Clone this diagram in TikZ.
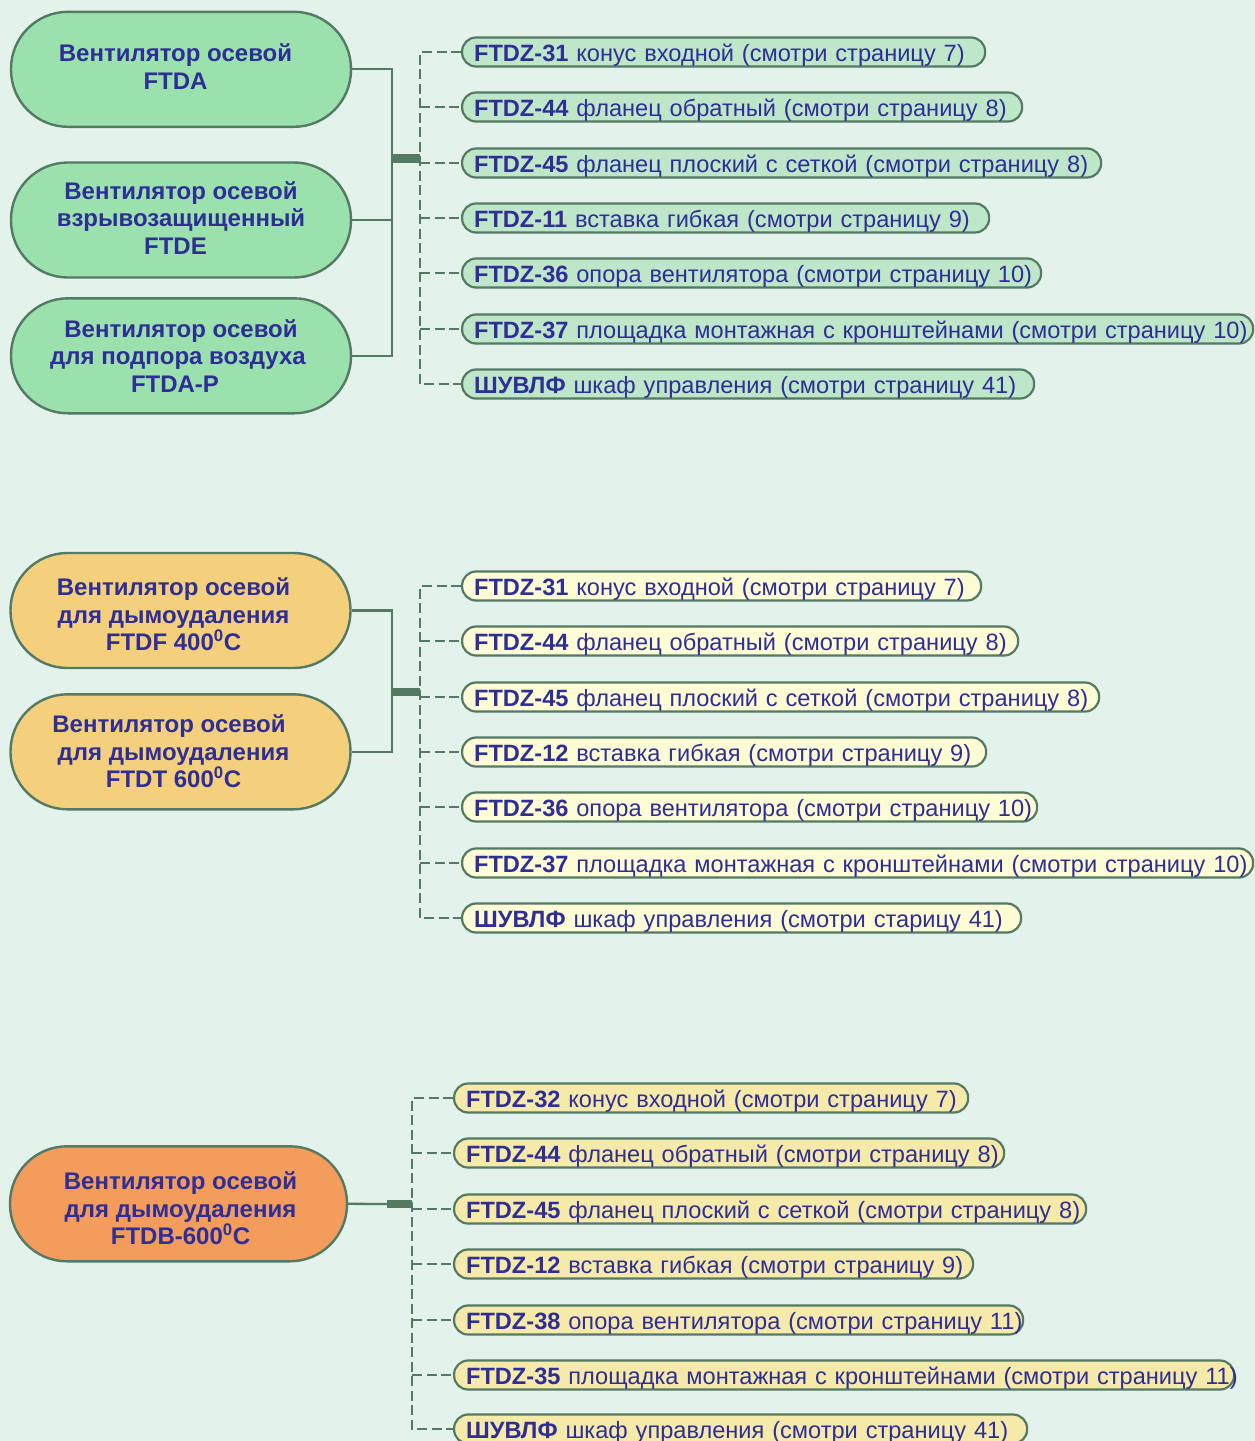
\documentclass[tikz,border=0pt]{standalone}
\usepackage{fontspec}
\setmainfont{Liberation Sans}
\definecolor{bg}{RGB}{227,242,234}
\definecolor{edge}{RGB}{84,122,100}
\definecolor{gmain}{RGB}{155,225,173}
\definecolor{glab}{RGB}{190,230,200}
\definecolor{ymain}{RGB}{245,208,124}
\definecolor{ylab}{RGB}{253,252,212}
\definecolor{ylabb}{RGB}{245,234,170}
\definecolor{omain}{RGB}{243,156,92}
\definecolor{txt}{RGB}{46,46,150}
\newcommand\lb[2]{\mbox{\textbf{#1} #2}}
\tikzset{
  mainpill/.style={draw=edge, line width=2.4pt, rounded corners=57pt,
    minimum width=340pt, minimum height=115pt, inner sep=0pt},
  mtext/.style={inner sep=0pt, align=center, text=txt, draw=none,
    font=\fontsize{24}{27.6}\selectfont\bfseries},
  lbl/.style={draw=edge, line width=2.2pt, rounded corners=14pt, minimum height=29pt,
    inner xsep=12pt, inner ysep=0pt, anchor=west, align=left, text=txt,
    text height=18.4pt, text depth=0pt,
    font=\fontsize{23.6}{27}\selectfont},
  bus/.style={draw=edge, line width=2.3pt},
  bar/.style={draw=edge, line width=8.5pt},
  dsh/.style={draw=edge, line width=2.7pt, dash pattern=on 10pt off 4.5pt}
}
\begin{document}
\begin{tikzpicture}[x=1pt,y=-1pt]
\useasboundingbox[fill=bg] (0,0) rectangle (1255,1441);

% ---------- section 1 ----------
\node[mainpill, fill=gmain, label={[mtext, xshift=-5.5pt, yshift=2.8pt]center:{Вентилятор осевой\\FTDA}}] (a1) at (181,69.3) {};
\node[mainpill, fill=gmain, label={[mtext, xshift=0pt, yshift=2.2pt]center:{Вентилятор осевой\\взрывозащищенный\\FTDE\hspace*{11pt}}}] (a2) at (181,220) {};
\node[mainpill, fill=gmain, label={[mtext, xshift=-3pt, yshift=0pt]center:{\hspace*{6pt}Вентилятор осевой\\для подпора воздуха\\FTDA-P\hspace*{6pt}}}] (a3) at (181,355.8) {};

\node[lbl, fill=glab, text width=499pt] (l11) at (461,52)  {\lb{FTDZ-31}{конус входной (смотри страницу 7)}};
\node[lbl, fill=glab, text width=536pt] (l12) at (461,107) {\lb{FTDZ-44}{фланец обратный (смотри страницу 8)}};
\node[lbl, fill=glab, text width=615pt] (l13) at (461,163) {\lb{FTDZ-45}{фланец плоский с сеткой (смотри страницу 8)}};
\node[lbl, fill=glab, text width=503pt] (l14) at (461,218) {\lb{FTDZ-11}{вставка гибкая (смотри страницу 9)}};
\node[lbl, fill=glab, text width=555pt] (l15) at (461,273) {\lb{FTDZ-36}{опора вентилятора (смотри страницу 10)}};
\node[lbl, fill=glab, text width=767pt] (l16) at (461,329) {\lb{FTDZ-37}{площадка монтажная с кронштейнами (смотри страницу 10)}};
\node[lbl, fill=glab, text width=548pt] (l17) at (461,384) {\lb{ШУВЛФ}{шкаф управления (смотри страницу 41)}};

\coordinate (s1) at (392,158.3);
\coordinate (t1) at (420,158.3);
\draw[bus] (a1.east) -| (s1);
\draw[bus] (a3.east) -| (s1);
\draw[bus] (a2.east) -- (a2.east -| s1);
\draw[bar] (s1) -- (t1);
\draw[dsh] (l11.west) -| (l17.west -| t1) -- (l17.west);
\foreach \i in {2,...,6} \draw[dsh] (l1\i.west -| t1) -- (l1\i.west);

% ---------- section 2 ----------
\node[mainpill, fill=ymain, label={[mtext, xshift=-7pt, yshift=-3.8pt]center:{Вентилятор осевой\\для дымоудаления\\FTDF 400\textsuperscript{0}C}}] (f1) at (180.5,610.5) {};
\node[mainpill, fill=ymain, label={[mtext, xshift=-7pt, yshift=0.3pt]center:{Вентилятор осевой\hspace*{9pt}\\для дымоудаления\\FTDT 600\textsuperscript{0}C}}] (f2) at (180.5,751.8) {};

\node[lbl, fill=ylab, text width=495pt] (l21) at (461,586) {\lb{FTDZ-31}{конус входной (смотри страницу 7)}};
\node[lbl, fill=ylab, text width=532pt] (l22) at (461,641) {\lb{FTDZ-44}{фланец обратный (смотри страницу 8)}};
\node[lbl, fill=ylab, text width=613pt] (l23) at (461,697) {\lb{FTDZ-45}{фланец плоский с сеткой (смотри страницу 8)}};
\node[lbl, fill=ylab, text width=500pt] (l24) at (461,752) {\lb{FTDZ-12}{вставка гибкая (смотри страницу 9)}};
\node[lbl, fill=ylab, text width=551pt] (l25) at (461,807) {\lb{FTDZ-36}{опора вентилятора (смотри страницу 10)}};
\node[lbl, fill=ylab, text width=767pt] (l26) at (461,863) {\lb{FTDZ-37}{площадка монтажная с кронштейнами (смотри страницу 10)}};
\node[lbl, fill=ylab, text width=535pt] (l27) at (461,918) {\lb{ШУВЛФ}{шкаф управления (смотри старицу 41)}};

\coordinate (s2) at (392,692);
\coordinate (t2) at (420,692);
\draw[bus] (f1.east) -| (s2);
\draw[bus] (f2.east) -| (s2);
\draw[bar] (s2) -- (t2);
\draw[dsh] (l21.west) -| (l27.west -| t2) -- (l27.west);
\foreach \i in {2,...,6} \draw[dsh] (l2\i.west -| t2) -- (l2\i.west);

% ---------- section 3 ----------
\node[mainpill, fill=omain, minimum width=337pt, label={[mtext, xshift=2pt, yshift=-4.5pt]center:{Вентилятор осевой\\для дымоудаления\\FTDB-600\textsuperscript{0}C}}] (b1) at (178.5,1203.8) {};

\node[lbl, fill=ylabb, text width=490pt] (l31) at (453,1098) {\lb{FTDZ-32}{конус входной (смотри страницу 7)}};
\node[lbl, fill=ylabb, text width=526pt] (l32) at (453,1153) {\lb{FTDZ-44}{фланец обратный (смотри страницу 8)}};
\node[lbl, fill=ylabb, text width=608pt] (l33) at (453,1209) {\lb{FTDZ-45}{фланец плоский с сеткой (смотри страницу 8)}};
\node[lbl, fill=ylabb, text width=495pt] (l34) at (453,1264) {\lb{FTDZ-12}{вставка гибкая (смотри страницу 9)}};
\node[lbl, fill=ylabb, text width=545pt] (l35) at (453,1320) {\lb{FTDZ-38}{опора вентилятора (смотри страницу 11)}};
\node[lbl, fill=ylabb, text width=756pt] (l36) at (453,1375) {\lb{FTDZ-35}{площадка монтажная с кронштейнами (смотри страницу 11)}};
\node[lbl, fill=ylabb, text width=549pt] (l37) at (453,1429) {\lb{ШУВЛФ}{шкаф управления (смотри страницу 41)}};

\coordinate (s3) at (387,1204);
\coordinate (t3) at (412,1204);
\draw[bus] (b1.east) -- (s3);
\draw[bar] (s3) -- (t3);
\draw[dsh] (l31.west) -| (l37.west -| t3) -- (l37.west);
\foreach \i in {2,...,6} \draw[dsh] (l3\i.west -| t3) -- (l3\i.west);
\end{tikzpicture}
\end{document}
